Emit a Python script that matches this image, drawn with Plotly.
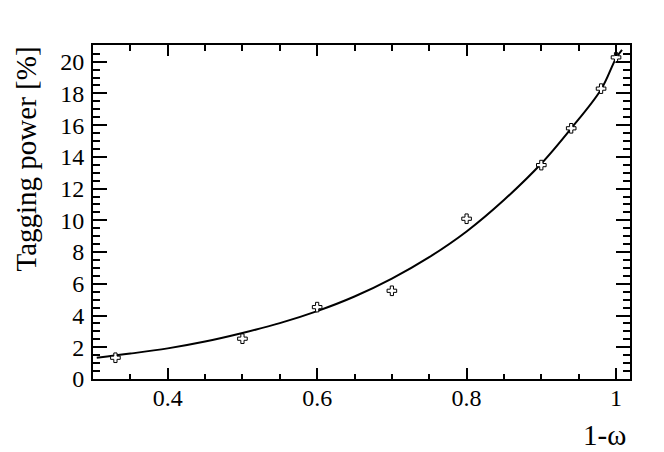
import plotly.graph_objects as go

# measured points
point_x = [0.33, 0.50, 0.60, 0.70, 0.80, 0.90, 0.94, 0.98, 1.00]
point_y = [1.34, 2.54, 4.53, 5.56, 10.10, 13.48, 15.80, 18.30, 20.27]

# fitted curve
curve_x = [0.305, 0.35, 0.40, 0.45, 0.50, 0.55, 0.60, 0.65, 0.70, 0.75, 0.80, 0.85, 0.90, 0.94, 0.98, 1.00, 1.008]
curve_y = [1.34, 1.60, 1.93, 2.36, 2.90, 3.52, 4.28, 5.20, 6.33, 7.68, 9.30, 11.28, 13.58, 15.80, 18.25, 20.22, 20.75]

x_tickvals = [0.4, 0.6, 0.8, 1.0]
x_ticktext = ["0.4", "0.6", "0.8", "1"]
y_tickvals = list(range(0, 21, 2))

FONT = "Liberation Serif, Times New Roman, serif"

fig = go.Figure()
fig.add_trace(go.Scatter(x=curve_x, y=curve_y, mode="lines",
                         line=dict(color="black", width=2, shape="spline", smoothing=1.0),
                         hoverinfo="skip", showlegend=False))
fig.add_trace(go.Scatter(x=point_x, y=point_y, mode="markers",
                         marker=dict(symbol="cross", size=8, color="white",
                                     line=dict(color="black", width=1)),
                         showlegend=False))

fig.update_layout(
    width=656, height=444,
    margin=dict(l=85, r=34, t=37, b=73),
    paper_bgcolor="white", plot_bgcolor="white",
    font=dict(family=FONT, color="black", size=24),
    xaxis=dict(range=[0.3, 1.0187], tickvals=x_tickvals, ticktext=x_ticktext,
               ticks="inside", ticklen=11, tickwidth=2, tickcolor="black",
               showline=True, linewidth=2, linecolor="black", mirror="allticks",
               showgrid=False, zeroline=False, automargin=False, ticklabelstandoff=-4,
               tickfont=dict(family=FONT, size=24, color="black"),
               minor=dict(dtick=0.05, tick0=0, ticks="inside", ticklen=5.5, tickwidth=2,
                          tickcolor="black", showgrid=False)),
    yaxis=dict(range=[0, 21.05], tickvals=y_tickvals,
               ticks="inside", ticklen=14, tickwidth=2, tickcolor="black",
               showline=True, linewidth=2, linecolor="black", mirror="allticks",
               showgrid=False, zeroline=False, automargin=False, ticklabelstandoff=2,
               tickfont=dict(family=FONT, size=24, color="black"),
               minor=dict(dtick=0.5, tick0=0, ticks="inside", ticklen=7, tickwidth=2,
                          tickcolor="black", showgrid=False)),
    annotations=[
        dict(text="Tagging power [%]", textangle=-90, xref="paper", yref="paper",
             x=0, y=1, xanchor="center", yanchor="top", xshift=-68, showarrow=False,
             font=dict(family=FONT, size=29, color="black")),
        dict(text="1-ω", xref="paper", yref="paper", x=1, y=0,
             xanchor="right", yanchor="middle", xshift=-2, yshift=-56, showarrow=False,
             font=dict(family=FONT, size=29, color="black")),
    ],
)

fig.write_html("out.html")
